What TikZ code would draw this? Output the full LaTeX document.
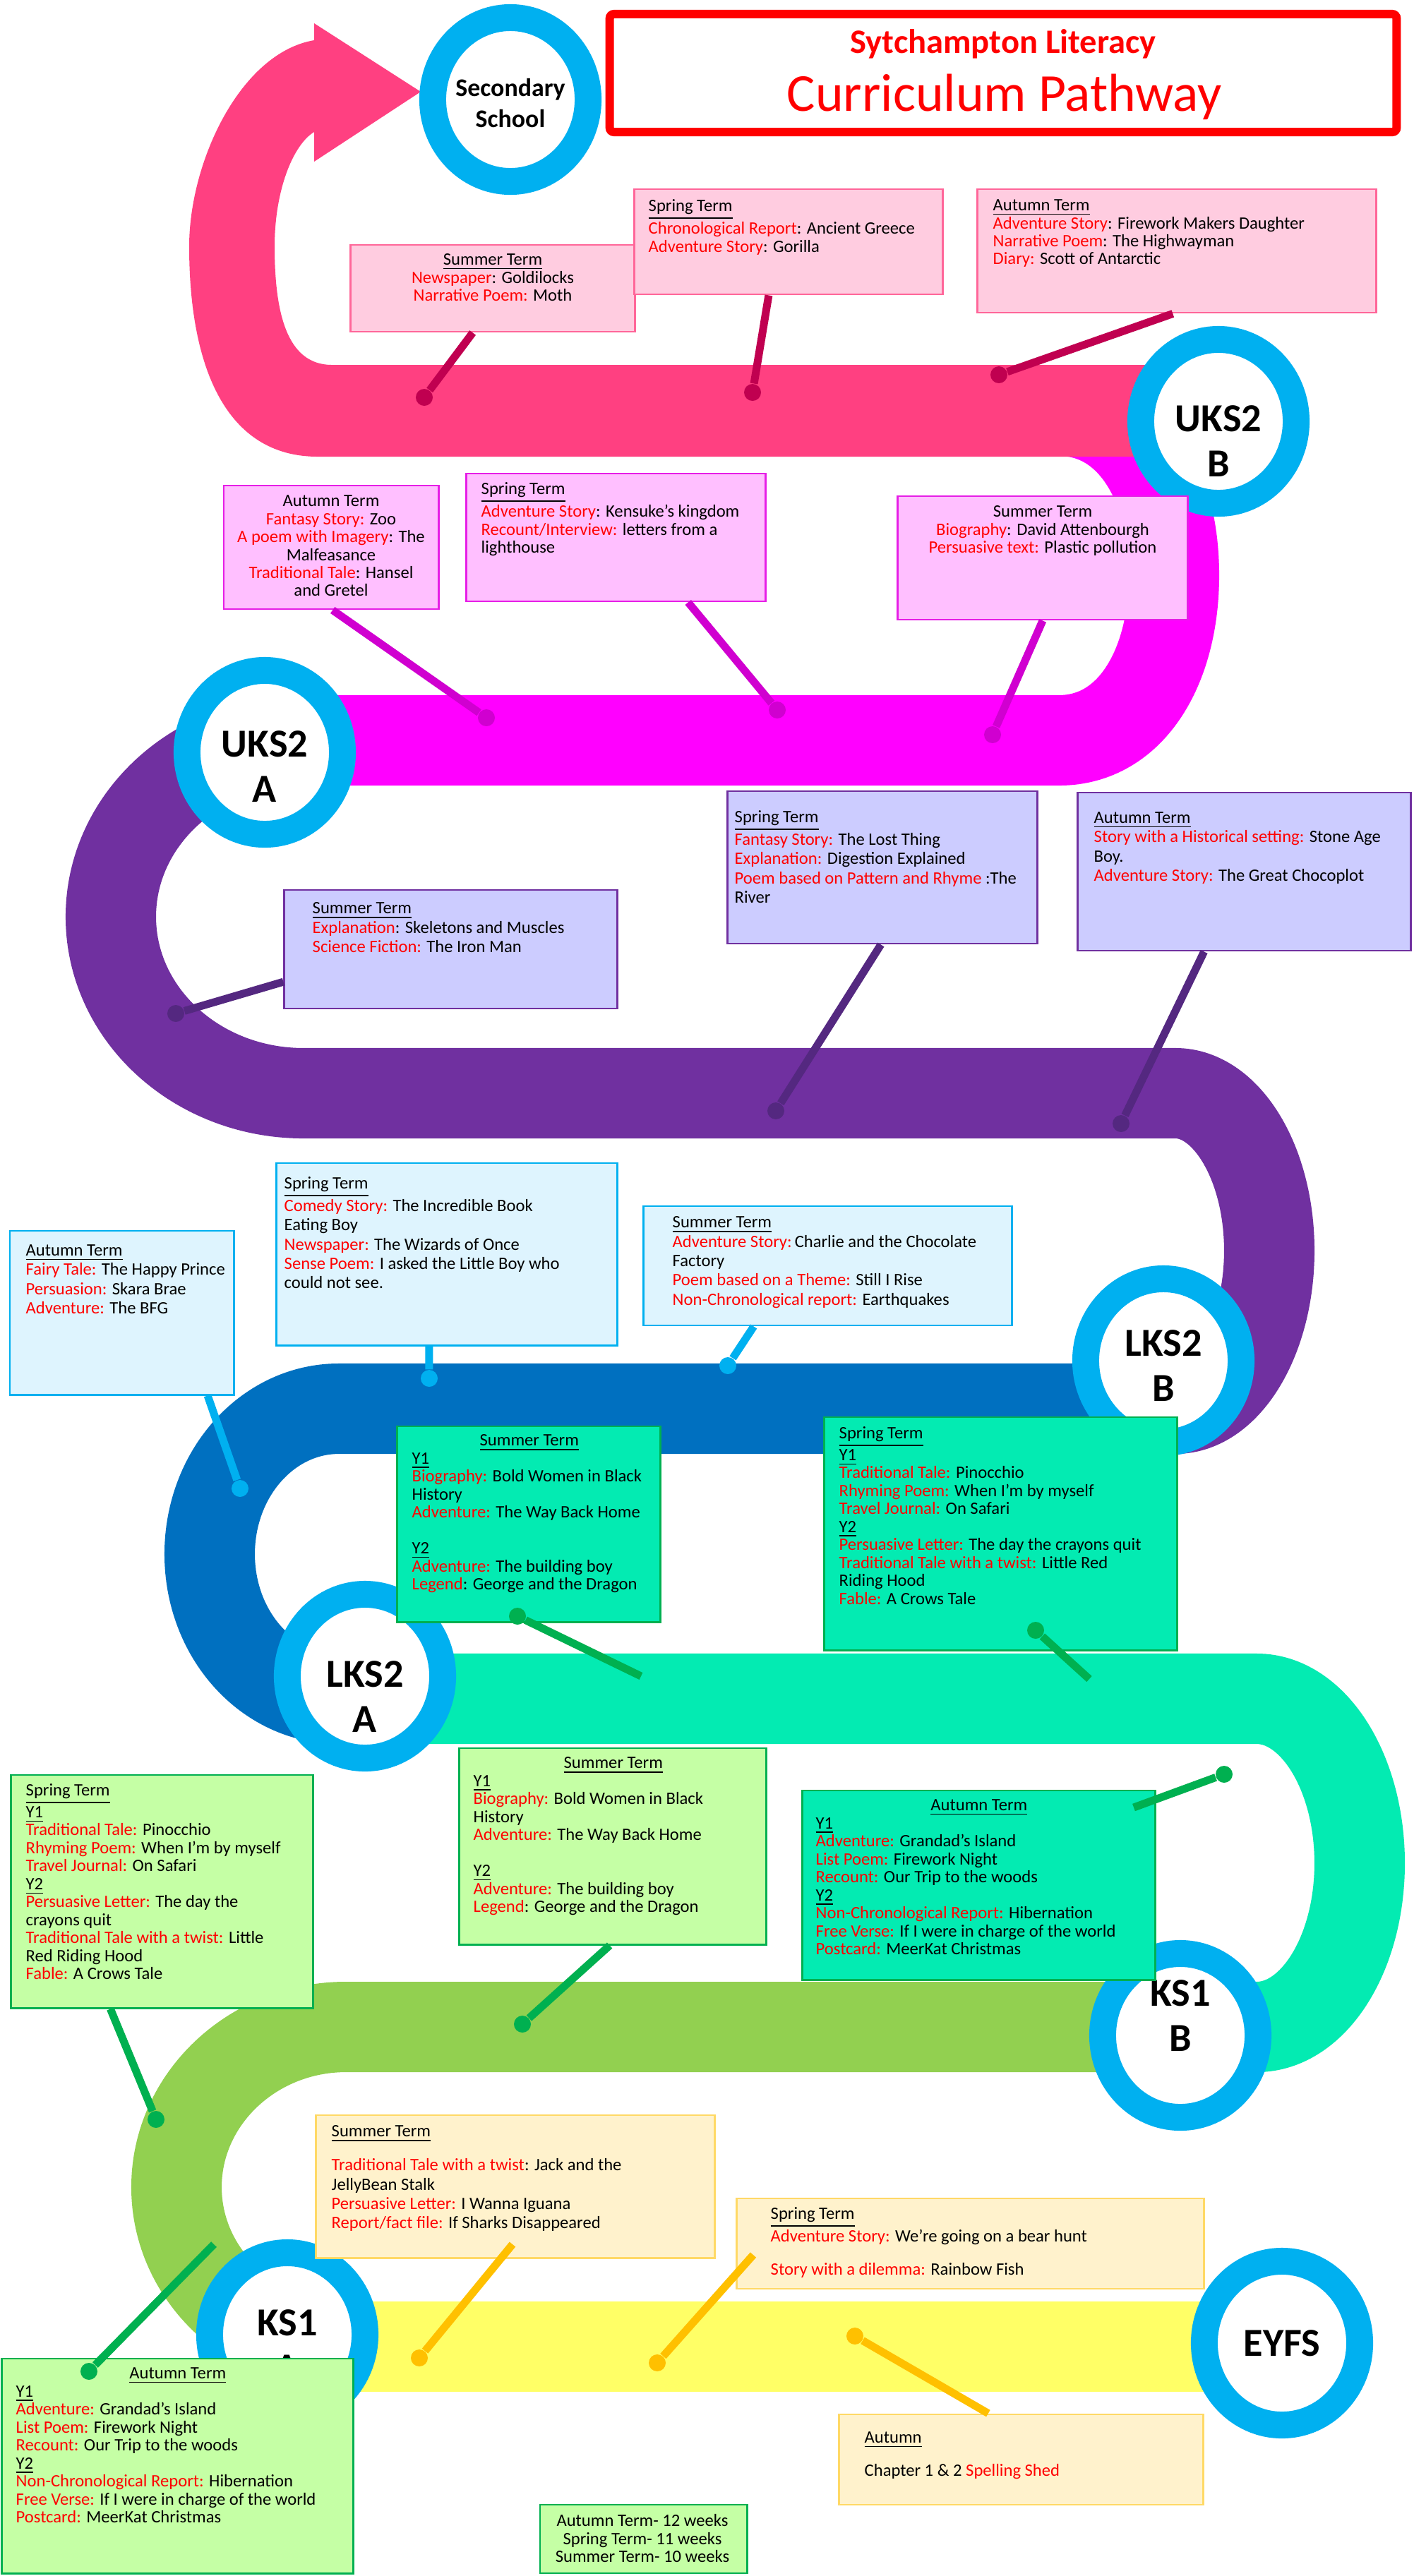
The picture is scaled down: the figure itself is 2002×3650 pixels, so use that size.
\documentclass[tikz,border=0pt]{standalone}
\usepackage{fontspec}
\setmainfont{Carlito}
\usetikzlibrary{calc,shapes.geometric}

\definecolor{roadpink}{RGB}{255,64,129}
\definecolor{roadmagenta}{RGB}{255,0,255}
\definecolor{roadpurple}{RGB}{112,48,160}
\definecolor{roadblue}{RGB}{0,112,192}
\definecolor{roadaqua}{RGB}{3,235,178}
\definecolor{roadgreen}{RGB}{146,208,80}
\definecolor{roadyellow}{RGB}{255,255,102}
\definecolor{ringblue}{RGB}{0,176,240}
\definecolor{pinkfill}{RGB}{255,204,224}
\definecolor{pinkline}{RGB}{255,102,153}
\definecolor{pinkpin}{RGB}{192,0,80}
\definecolor{magfill}{RGB}{255,191,255}
\definecolor{magline}{RGB}{230,30,230}
\definecolor{magpin}{RGB}{208,0,208}
\definecolor{purfill}{RGB}{204,204,255}
\definecolor{purpin}{RGB}{84,40,128}
\definecolor{skyfill}{RGB}{222,244,254}
\definecolor{greenline}{RGB}{0,176,80}
\definecolor{limefill}{RGB}{197,255,165}
\definecolor{creamfill}{RGB}{255,242,204}
\definecolor{creamline}{RGB}{255,217,102}
\definecolor{goldpin}{RGB}{255,192,0}

\newcommand{\kw}[1]{\textcolor{red}{#1}}

\begin{document}
\begin{tikzpicture}[x=0.01cm,y=-0.01cm,
  roadline/.style={line width=1.28cm},
  stopring/.style={ellipse,draw=ringblue,fill=white,line width=0.38cm,minimum width=2.2cm,minimum height=2.32cm,inner sep=0pt},
  stoptext/.style={font=\bfseries\fontsize{16}{18}\selectfont,align=center,inner sep=0pt},
  termbox/.style={draw,line width=0.8pt,inner sep=0pt},
  pinkbox/.style={termbox,fill=pinkfill,draw=pinkline},
  magbox/.style={termbox,fill=magfill,draw=magline},
  purbox/.style={termbox,fill=purfill,draw=roadpurple},
  skybox/.style={termbox,fill=skyfill,draw=ringblue},
  aquabox/.style={termbox,fill=roadaqua,draw=greenline},
  limebox/.style={termbox,fill=limefill,draw=greenline},
  creambox/.style={termbox,fill=creamfill,draw=creamline},
  termtext/.style={inner sep=0pt,anchor=north west,align=left,font=\fontsize{7}{7.25}\selectfont},
  loose/.style={font=\fontsize{7}{7.77}\selectfont},
  stem/.style={line width=0.11cm},
  pindot/.style={circle,fill,inner sep=0pt,minimum size=0.24cm}]

\path[use as bounding box,fill=white] (0,0) rectangle (2002,3650);

% the road, from EYFS up to secondary school
\draw[roadline,roadyellow] (430,3325) -- (1816,3325);
\draw[roadline,roadgreen] (1780,2872) -- (490,2872) .. controls (358,2872) and (250,2974) .. (250,3099) .. controls (250,3224) and (358,3325) .. (490,3325);
\draw[roadline,roadaqua] (480,2407) -- (1780,2407) .. controls (1861,2407) and (1926,2512) .. (1926,2640) .. controls (1926,2768) and (1861,2872) .. (1780,2872);
\draw[roadline,roadblue] (1665,1996) -- (480,1996) .. controls (379,1996) and (297,2088) .. (297,2202) .. controls (297,2316) and (379,2407) .. (480,2407);
\draw[roadline,roadpurple] (430,1049) .. controls (279,1049) and (157,1161) .. (157,1299) .. controls (157,1437) and (279,1549) .. (430,1549) -- (1665,1549) .. controls (1738,1549) and (1798,1649) .. (1798,1772) .. controls (1798,1895) and (1738,1996) .. (1665,1996);
\draw[roadline,roadmagenta] (1500,582) .. controls (1603,582) and (1663,686) .. (1663,815) .. controls (1663,944) and (1603,1049) .. (1500,1049) -- (430,1049);
\fill[roadpink] (445,57) .. controls (340,75) and (268,230) .. (268,349)
  .. controls (268,520) and (320,647) .. (450,647) -- (1640,647) -- (1640,517) -- (470,517)
  .. controls (405,517) and (389,440) .. (389,349) .. controls (389,270) and (415,205) .. (445,187)
  -- (445,229) -- (596,130) -- (445,33) -- cycle;

% stops
\node[stopring] (sec) at (723,141) {};
\node[stopring] (uksb) at (1726,597) {};
\node[stopring] (uksa) at (375,1066) {};
\node[stopring] (lksb) at (1648,1928) {};
\node[stopring] (lksa) at (517,2375) {};
\node[stopring] (ksb) at (1672,2884) {};
\node[stopring] (ksa) at (407,3308) {};
\node[stopring] (eyfs) at (1816,3320) {};
\node[stoptext,font=\bfseries\fontsize{10.2}{12.3}\selectfont] (secT) at (723,146) {Secondary\\School};
\node[stoptext] (uksbT) at (1726,625) {UKS2\\B};
\node[stoptext] (uksaT) at (375,1086) {UKS2\\A};
\node[stoptext] (lksbT) at (1648,1935) {LKS2\\B};
\node[stoptext] (lksaT) at (517,2404) {LKS2\\A};
\node[stoptext] (ksbT) at (1672,2856) {KS1\\B};
\node[stoptext] (ksaT) at (407,3323) {KS1\\A};
\node[stoptext] (eyfsT) at (eyfs) {EYFS};

% title
\node[draw=red,fill=white,line width=0.12cm,rounded corners=0.06cm,minimum width=11.14cm,minimum height=1.67cm] (title) at (1421,103.5) {};
\node[anchor=base,text=red,font=\bfseries\fontsize{13.8}{16}\selectfont] (titleA) at (1421,75) {Sytchampton Literacy};
\node[anchor=base,text=red,font=\fontsize{21.5}{25}\selectfont] (titleB) at (1423,157) {Curriculum Pathway};

% term boxes
\node[pinkbox,minimum width=4.02cm,minimum height=1.23cm] (pinkSum) at (698,408.5) {};
\node[termtext,anchor=north,align=center] (pinkSumT) at (698,359) {\underline{Summer Term}\\\kw{Newspaper}: Goldilocks\\\kw{Narrative Poem:} Moth};
\node[pinkbox,minimum width=4.36cm,minimum height=1.49cm] (pinkSpr) at (1117,342.5) {};
\node[termtext] (pinkSprT) at (918,282) {\underline{Spring Term}\\\kw{Chronological Report}: Ancient Greece\\\kw{Adventure Story}: Gorilla};
\node[pinkbox,minimum width=5.64cm,minimum height=1.75cm] (pinkAut) at (1667,355.5) {};
\node[termtext] (pinkAutT) at (1406,282) {\underline{Autumn Term}\\\kw{Adventure Story}: Firework Makers Daughter\\\kw{Narrative Poem}: The Highwayman\\\kw{Diary:} Scott of Antarctic};

\node[magbox,minimum width=3.04cm,minimum height=1.75cm] (magAut) at (469,775.5) {};
\node[termtext,anchor=north,align=center] (magAutT) at (469,701) {Autumn Term\\\kw{Fantasy Story:} Zoo\\\kw{A poem with Imagery}: The\\Malfeasance\\\kw{Traditional Tale}: Hansel\\and Gretel};
\node[magbox,minimum width=4.23cm,minimum height=1.81cm] (magSpr) at (872.5,761.5) {};
\node[termtext] (magSprT) at (681,683) {\underline{Spring Term}\\\kw{Adventure Story}: Kensuke's kingdom\\\kw{Recount/Interview:} letters from a\\lighthouse};
\node[magbox,minimum width=4.10cm,minimum height=1.75cm] (magSum) at (1477,790.5) {};
\node[termtext,anchor=north,align=center] (magSumT) at (1477,716) {Summer Term\\\kw{Biography}: David Attenbourgh\\\kw{Persuasive text:} Plastic pollution};

\node[purbox,minimum width=4.71cm,minimum height=1.68cm] (purSum) at (638.5,1345) {};
\node[termtext,loose] (purSumT) at (442,1278) {\underline{Summer Term}\\\kw{Explanation}: Skeletons and Muscles\\\kw{Science Fiction:} The Iron Man};
\node[purbox,minimum width=4.38cm,minimum height=2.16cm] (purSpr) at (1250,1229) {};
\node[termtext,loose] (purSprT) at (1040,1148) {\underline{Spring Term}\\\kw{Fantasy Story:} The Lost Thing\\\kw{Explanation:} Digestion Explained\\\kw{Poem based on Pattern and Rhyme} :The\\River};
\node[purbox,minimum width=4.71cm,minimum height=2.24cm] (purAut) at (1762.5,1235) {};
\node[termtext,loose] (purAutT) at (1549,1150) {\underline{Autumn Term}\\\kw{Story with a Historical setting:} Stone Age\\Boy.\\\kw{Adventure Story:} The Great Chocoplot};

\node[skybox,minimum width=3.17cm,minimum height=2.32cm] (skyAut) at (172.5,1860) {};
\node[termtext,loose] (skyAutT) at (36,1763) {\underline{Autumn Term}\\\kw{Fairy Tale:} The Happy Prince\\\kw{Persuasion:} Skara Brae\\\kw{Adventure:} The BFG};
\node[skybox,minimum width=4.82cm,minimum height=2.58cm] (skySpr) at (633,1777) {};
\node[termtext,loose] (skySprT) at (402,1667) {\underline{Spring Term}\\\kw{Comedy Story:} The Incredible Book\\Eating Boy\\\kw{Newspaper:} The Wizards of Once\\\kw{Sense Poem:} I asked the Little Boy who\\could not see.};
\node[skybox,minimum width=5.21cm,minimum height=1.69cm] (skySum) at (1172.5,1793.5) {};
\node[termtext,loose] (skySumT) at (952,1723) {\underline{Summer Term}\\\kw{Adventure Story:}\,Charlie and the Chocolate\\Factory\\\kw{Poem based on a Theme:} Still I Rise\\\kw{Non-Chronological report:} Earthquakes};

\node[aquabox,minimum width=3.72cm,minimum height=2.77cm] (aquaSum) at (749,2159.5) {};
\node[termtext] (aquaSumT) at (583,2032) {\makebox[3.32cm]{\underline{Summer Term}}\\\underline{Y1}\\\kw{Biography:} Bold Women in Black\\History\\\kw{Adventure:} The Way Back Home\\[7.25pt]\underline{Y2}\\\kw{Adventure:} The building boy\\\kw{Legend}: George and the Dragon};
\node[aquabox,minimum width=4.99cm,minimum height=3.30cm] (aquaSpr) at (1417.5,2173) {};
\node[termtext] (aquaSprT) at (1188,2021) {\underline{Spring Term}\\\underline{Y1}\\\kw{Traditional Tale:} Pinocchio\\\kw{Rhyming Poem:} When I'm by myself\\\kw{Travel Journal:} On Safari\\\underline{Y2}\\\kw{Persuasive Letter:} The day the crayons quit\\\kw{Traditional Tale with a twist:} Little Red\\Riding Hood\\\kw{Fable:} A Crows Tale};

\node[limebox,minimum width=4.27cm,minimum height=3.30cm] (limeSpr) at (229.5,2680) {};
\node[termtext] (limeSprT) at (36,2527) {\underline{Spring Term}\\\underline{Y1}\\\kw{Traditional Tale:} Pinocchio\\\kw{Rhyming Poem:} When I'm by myself\\\kw{Travel Journal:} On Safari\\\underline{Y2}\\\kw{Persuasive Letter:} The day the\\crayons quit\\\kw{Traditional Tale with a twist:} Little\\Red Riding Hood\\\kw{Fable:} A Crows Tale};
\node[limebox,minimum width=4.34cm,minimum height=2.78cm] (limeSum) at (868,2616) {};
\node[termtext] (limeSumT) at (670,2489) {\makebox[3.96cm]{\underline{Summer Term}}\\\underline{Y1}\\\kw{Biography:} Bold Women in Black\\History\\\kw{Adventure:} The Way Back Home\\[7.25pt]\underline{Y2}\\\kw{Adventure:} The building boy\\\kw{Legend}: George and the Dragon};
\node[aquabox,minimum width=4.99cm,minimum height=2.68cm] (aquaAut) at (1386.5,2671) {};
\node[termtext] (aquaAutT) at (1155,2549) {\makebox[4.62cm]{\underline{Autumn Term}}\\\underline{Y1}\\\kw{Adventure:} Grandad's Island\\\kw{List Poem:} Firework Night\\\kw{Recount:} Our Trip to the woods\\\underline{Y2}\\\kw{Non-Chronological Report:} Hibernation\\\kw{Free Verse:} If I were in charge of the world\\\kw{Postcard:} MeerKat Christmas};

\node[creambox,minimum width=5.64cm,minimum height=2.02cm] (creamSum) at (730,3098) {};
\node[termtext,loose] (creamSumT) at (469,3011) {\underline{Summer Term}\\[5.9pt]\kw{Traditional Tale with a twist}: Jack and the\\JellyBean Stalk\\\kw{Persuasive Letter:} I Wanna Iguana\\\kw{Report/fact file:} If Sharks Disappeared};
\node[creambox,minimum width=6.61cm,minimum height=1.28cm] (creamSpr) at (1374.5,3179) {};
\node[termtext,loose] (creamSprT) at (1091,3127) {\underline{Spring Term}\\\kw{Adventure Story:} We're going on a bear hunt\\[5.6pt]\kw{Story with a dilemma:} Rainbow Fish};
\node[creambox,minimum width=5.15cm,minimum height=1.28cm] (creamAut) at (1446.5,3485) {};
\node[termtext,loose] (creamAutT) at (1224,3445) {\underline{Autumn}\\[5.7pt]Chapter 1 \& 2 \kw{Spelling Shed}};

\node[limebox,minimum width=4.97cm,minimum height=3.04cm] (limeAut) at (251.5,3494) {};
\node[termtext] (limeAutT) at (22,3354) {\makebox[4.58cm]{\underline{Autumn Term}}\\\underline{Y1}\\\kw{Adventure:} Grandad's Island\\\kw{List Poem:} Firework Night\\\kw{Recount:} Our Trip to the woods\\\underline{Y2}\\\kw{Non-Chronological Report:} Hibernation\\\kw{Free Verse:} If I were in charge of the world\\\kw{Postcard:} MeerKat Christmas};
\node[limebox,minimum width=2.93cm,minimum height=0.97cm] (weeks) at (911.5,3597.5) {};
\node[termtext,anchor=north,align=center] (weeksT) at (910,3562) {Autumn Term- 12 weeks\\Spring Term- 11 weeks\\Summer Term- 10 weeks};

% pins onto the road
\node[pindot,pinkpin] (pinkSumD) at (601,563) {};
\node[pindot,pinkpin] (pinkSprD) at (1066,556) {};
\node[pindot,pinkpin] (pinkAutD) at (1415,531) {};
\draw[stem,pinkpin] ($(pinkSum.south west)!.43!(pinkSum.south east)$) -- (pinkSumD);
\draw[stem,pinkpin] ($(pinkSpr.south west)!.436!(pinkSpr.south east)$) -- (pinkSprD);
\draw[stem,pinkpin] ($(pinkAut.south west)!.49!(pinkAut.south east)$) -- (pinkAutD);

\node[pindot,magpin] (magAutD) at (689,1017) {};
\node[pindot,magpin] (magSprD) at (1101,1006) {};
\node[pindot,magpin] (magSumD) at (1406,1041) {};
\draw[stem,magpin] ($(magAut.south west)!.507!(magAut.south east)$) -- (magAutD);
\draw[stem,magpin] ($(magSpr.south west)!.74!(magSpr.south east)$) -- (magSprD);
\draw[stem,magpin] (magSum.south) -- (magSumD);

\node[pindot,purpin] (purSumD) at (249,1436) {};
\node[pindot,purpin] (purSprD) at (1099,1574) {};
\node[pindot,purpin] (purAutD) at (1588,1592) {};
\draw[stem,purpin] ($(purSum.north west)!.77!(purSum.south west)$) -- (purSumD);
\draw[stem,purpin] ($(purSpr.south west)!.495!(purSpr.south east)$) -- (purSprD);
\draw[stem,purpin] ($(purAut.south west)!.38!(purAut.south east)$) -- (purAutD);

\node[pindot,ringblue] (skyAutD) at (340,2109) {};
\node[pindot,ringblue] (skySprD) at (608,1953) {};
\node[pindot,ringblue] (skySumD) at (1031,1935) {};
\draw[stem,ringblue] ($(skyAut.south west)!.88!(skyAut.south east)$) -- (skyAutD);
\draw[stem,ringblue] ($(skySpr.south west)!.448!(skySpr.south east)$) -- (skySprD);
\draw[stem,ringblue] ($(skySum.south west)!.3!(skySum.south east)$) -- (skySumD);

\node[pindot,greenline] (aquaSumD) at (733,2290) {};
\node[pindot,greenline] (aquaSprD) at (1467,2310) {};
\node[pindot,greenline] (aquaAutD) at (1734,2514) {};
\coordinate (aquaSumE) at (908,2375);
\coordinate (aquaSprE) at (1543,2379);
\coordinate (aquaAutE) at (1606,2561);
\draw[stem,greenline] (aquaSumD) -- (aquaSumE);
\draw[stem,greenline] (aquaSprD) -- (aquaSprE);
\draw[stem,greenline] (aquaAutD) -- (aquaAutE);

\node[pindot,greenline] (limeSprD) at (221,3003) {};
\node[pindot,greenline] (limeSumD) at (740,2868) {};
\node[pindot,greenline] (limeAutD) at (126,3360) {};
\coordinate (limeAutE) at (303,3180);
\draw[stem,greenline] ($(limeSpr.south west)!.33!(limeSpr.south east)$) -- (limeSprD);
\draw[stem,greenline] ($(limeSum.south west)!.49!(limeSum.south east)$) -- (limeSumD);
\draw[stem,greenline] (limeAutD) -- (limeAutE);

\node[pindot,goldpin] (creamSumD) at (594,3341) {};
\node[pindot,goldpin] (creamSprD) at (931,3348) {};
\node[pindot,goldpin] (creamAutD) at (1211,3310) {};
\coordinate (creamSumE) at (726,3180);
\coordinate (creamSprE) at (1067,3195);
\draw[stem,goldpin] (creamSumE) -- (creamSumD);
\draw[stem,goldpin] (creamSprE) -- (creamSprD);
\draw[stem,goldpin] ($(creamAut.north west)!.41!(creamAut.north east)$) -- (creamAutD);
\end{tikzpicture}
\end{document}
